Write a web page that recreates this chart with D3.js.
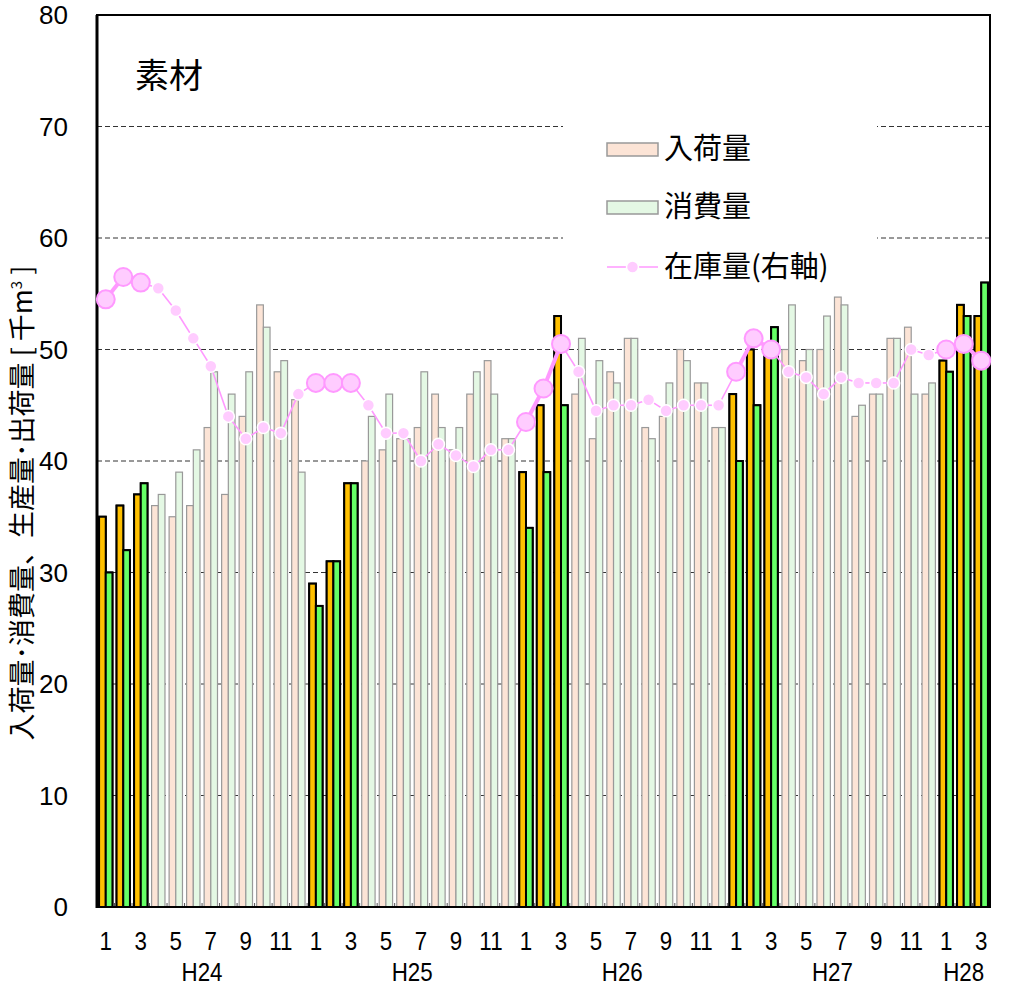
<!DOCTYPE html>
<html><head><meta charset="utf-8">
<script src="https://cdn.jsdelivr.net/npm/d3@7"></script>
<style>body{margin:0;background:#fff} svg{display:block}</style>
</head><body><svg id="c" width="1009" height="987"></svg>
<script>
// ---- data ----
const years = ["H24", "H25", "H26", "H27", "H28"];
const monthsPerYear = [12, 12, 12, 12, 3];
const monthTickLabels = ["1", "3", "5", "7", "9", "11"];
const yTicks = [0, 10, 20, 30, 40, 50, 60, 70, 80];
const seriesNames = ["入荷量", "消費量", "在庫量(右軸)"];
// 入荷量 (thousand m3)
const arrivals = [
  35, 36, 37, 36, 35, 36, 43, 37, 44, 54, 48, 45.5,
  29, 31, 38, 40, 41, 42, 43, 46, 41, 46, 49, 42,
  39, 45, 53, 46, 42, 48, 51, 43, 44, 50, 47, 43,
  46, 50, 50, 50, 49, 50, 54.7, 44, 46, 51, 52, 46,
  49, 54, 53
];
// 消費量
const consumption = [
  30, 32, 38, 37, 39, 41, 48, 46, 48, 52, 49, 39,
  27, 31, 38, 44, 46, 42, 48, 43, 43, 48, 46, 42,
  34, 39, 45, 51, 49, 47, 51, 42, 47, 49, 47, 43,
  40, 45, 52, 54, 50, 53, 54, 45, 46, 51, 46, 47,
  48, 53, 56
];
// 在庫量 (right axis, same visual scale)
const inventory = [
  54.5, 56.5, 56, 55.5, 53.5, 51, 48.5, 44, 42, 43, 42.5, 46,
  47, 47, 47, 45, 42.5, 42.5, 40, 41.5, 40.5, 39.5, 41, 41,
  43.5, 46.5, 50.5, 48, 44.5, 45, 45, 45.5, 44.5, 45, 45, 45,
  48, 51, 50, 48, 47.5, 46, 47.5, 47, 47, 47, 50, 49.5,
  50, 50.5, 49
];

// ---- layout ----
const L = 97, R = 990, T = 15, B = 907;
const svg = d3.select("#c");

const cats = [];
years.forEach((y, yi) => {
  for (let m = 1; m <= monthsPerYear[yi]; m++) cats.push({ year: y, month: m, key: y + "-" + m });
});
const data = cats.map((c, i) => ({ ...c, i, a: arrivals[i], c: consumption[i], s: inventory[i], hi: c.month <= 3 }));

const x = d3.scaleBand().domain(data.map(d => d.key)).range([L, R]).padding(0);
const xs = d3.scaleBand().domain(["a", "c"]).range([0, x.bandwidth()]).paddingInner(0).paddingOuter(0.31);
const y = d3.scaleLinear().domain([0, 80]).range([B, T]);
const yR = d3.scaleLinear().domain([0, 80]).range([B, T]);
const cx = d => x(d.key) + x.bandwidth() / 2;

// gridlines
svg.append("g").selectAll("line").data(yTicks.filter(t => t > 0 && t < 80)).join("line")
  .attr("x1", L).attr("x2", R).attr("y1", d => y(d)).attr("y2", d => y(d))
  .attr("stroke", "#333").attr("stroke-width", 1).attr("stroke-dasharray", "5,3");

// legend background (covers gridlines)
svg.append("rect").attr("x", 563).attr("y", 112).attr("width", 314).attr("height", 180).attr("fill", "#fff");

// bars
const colors = {
  a: { hi: "#FFC000", lo: "#FCE4D6" },
  c: { hi: "#66FF66", lo: "#E4F8E4" }
};
["a", "c"].forEach(k => {
  svg.append("g").selectAll("rect").data(data).join("rect")
    .attr("x", d => x(d.key) + xs(k))
    .attr("width", xs.bandwidth())
    .attr("y", d => y(d[k]))
    .attr("height", d => y(0) - y(d[k]))
    .attr("fill", d => d.hi ? colors[k].hi : colors[k].lo)
    .attr("stroke", d => d.hi ? "#000" : "#999")
    .attr("stroke-width", d => d.hi ? 2 : 1.2);
});
// redraw highlighted bars on top so black outlines are intact
["a", "c"].forEach(k => {
  svg.append("g").selectAll("rect").data(data.filter(d => d.hi)).join("rect")
    .attr("x", d => x(d.key) + xs(k))
    .attr("width", xs.bandwidth())
    .attr("y", d => y(d[k]))
    .attr("height", d => y(0) - y(d[k]))
    .attr("fill", colors[k].hi)
    .attr("stroke", "#000")
    .attr("stroke-width", 2);
});

// bottom minor ticks at month boundaries
svg.append("g").selectAll("line").data(data.slice(1)).join("line")
  .attr("x1", d => x(d.key)).attr("x2", d => x(d.key))
  .attr("y1", B).attr("y2", B - 4).attr("stroke", "#555").attr("stroke-width", 1);

// frame
svg.append("rect").attr("x", L).attr("y", T).attr("width", R - L).attr("height", B - T)
  .attr("fill", "none").attr("stroke", "#000").attr("stroke-width", 2);
svg.append("line").attr("x1", L).attr("x2", L).attr("y1", T).attr("y2", B + 1).attr("stroke", "#000").attr("stroke-width", 3);

// inventory line
const lineColor = "#FF99FF";
const segs = d3.pairs(data);
svg.append("g").selectAll("line").data(segs).join("line")
  .attr("x1", p => cx(p[0])).attr("y1", p => yR(p[0].s))
  .attr("x2", p => cx(p[1])).attr("y2", p => yR(p[1].s))
  .attr("stroke", lineColor)
  .attr("stroke-width", p => (p[0].hi && p[1].hi) ? 4 : 1.6);
svg.append("g").selectAll("circle").data(data).join("circle")
  .attr("cx", cx).attr("cy", d => yR(d.s))
  .attr("r", d => d.hi ? 9 : 6)
  .attr("fill", "#FFCCFF")
  .attr("stroke", d => d.hi ? lineColor : "#fff")
  .attr("stroke-width", d => d.hi ? 2 : 1.5);

// y axis labels
svg.append("g").selectAll("text").data(yTicks).join("text")
  .attr("x", 68).attr("y", d => y(d)).attr("dy", "0.36em")
  .attr("text-anchor", "end")
  .attr("font-family", "Liberation Sans, Arial, sans-serif").attr("font-size", 26)
  .text(d => d);

// x tick labels
const tickData = data.filter(d => monthTickLabels.includes(String(d.month)));
svg.append("g").selectAll("text").data(tickData).join("text")
  .attr("transform", d => `translate(${cx(d)},950) scale(0.86,1)`)
  .attr("text-anchor", "middle")
  .attr("font-family", "Liberation Sans, Arial, sans-serif").attr("font-size", 26)
  .text(d => d.month);

// year labels
svg.append("g").selectAll("text").data(years).join("text")
  .attr("transform", yr => {
    const ds = data.filter(d => d.year === yr);
    const mx = (cx(ds[0]) + cx(ds[ds.length - 1])) / 2;
    return `translate(${mx},981) scale(0.86,1)`;
  })
  .attr("text-anchor", "middle")
  .attr("font-family", "Liberation Sans, Arial, sans-serif").attr("font-size", 26)
  .text(d => d);

// y axis title
const yt = svg.append("text")
  .attr("transform", "translate(32,503) rotate(-90)")
  .attr("text-anchor", "middle")
  .attr("font-family", "Noto Sans CJK JP, sans-serif").attr("font-size", 27);
yt.append("tspan").text("入荷量･消費量、生産量･出荷量 [ 千m");
yt.append("tspan").attr("font-size", 15).attr("baseline-shift", "super").text("3");
yt.append("tspan").text(" ]");

// title
svg.append("text").attr("x", 135).attr("y", 88)
  .attr("font-family", "Noto Sans CJK JP, sans-serif").attr("font-size", 34)
  .text("素材");

// legend
const lg = svg.append("g");
const lgY = [149, 207, 267];
lg.append("rect").attr("x", 607).attr("y", lgY[0] - 6).attr("width", 51).attr("height", 13)
  .attr("fill", colors.a.lo).attr("stroke", "#999").attr("stroke-width", 1.5);
lg.append("rect").attr("x", 607).attr("y", lgY[1] - 6).attr("width", 51).attr("height", 13)
  .attr("fill", colors.c.lo).attr("stroke", "#999").attr("stroke-width", 1.5);
lg.append("line").attr("x1", 607).attr("x2", 658).attr("y1", lgY[2]).attr("y2", lgY[2])
  .attr("stroke", lineColor).attr("stroke-width", 1.6);
lg.append("circle").attr("cx", 632.5).attr("cy", lgY[2]).attr("r", 6)
  .attr("fill", "#FFCCFF").attr("stroke", "#fff").attr("stroke-width", 1.5);
lg.selectAll("text").data(seriesNames).join("text")
  .attr("x", 664).attr("y", (d, i) => lgY[i]).attr("dy", "0.36em")
  .attr("font-family", "Noto Sans CJK JP, sans-serif").attr("font-size", 29)
  .text(d => d);
</script>
</body></html>
